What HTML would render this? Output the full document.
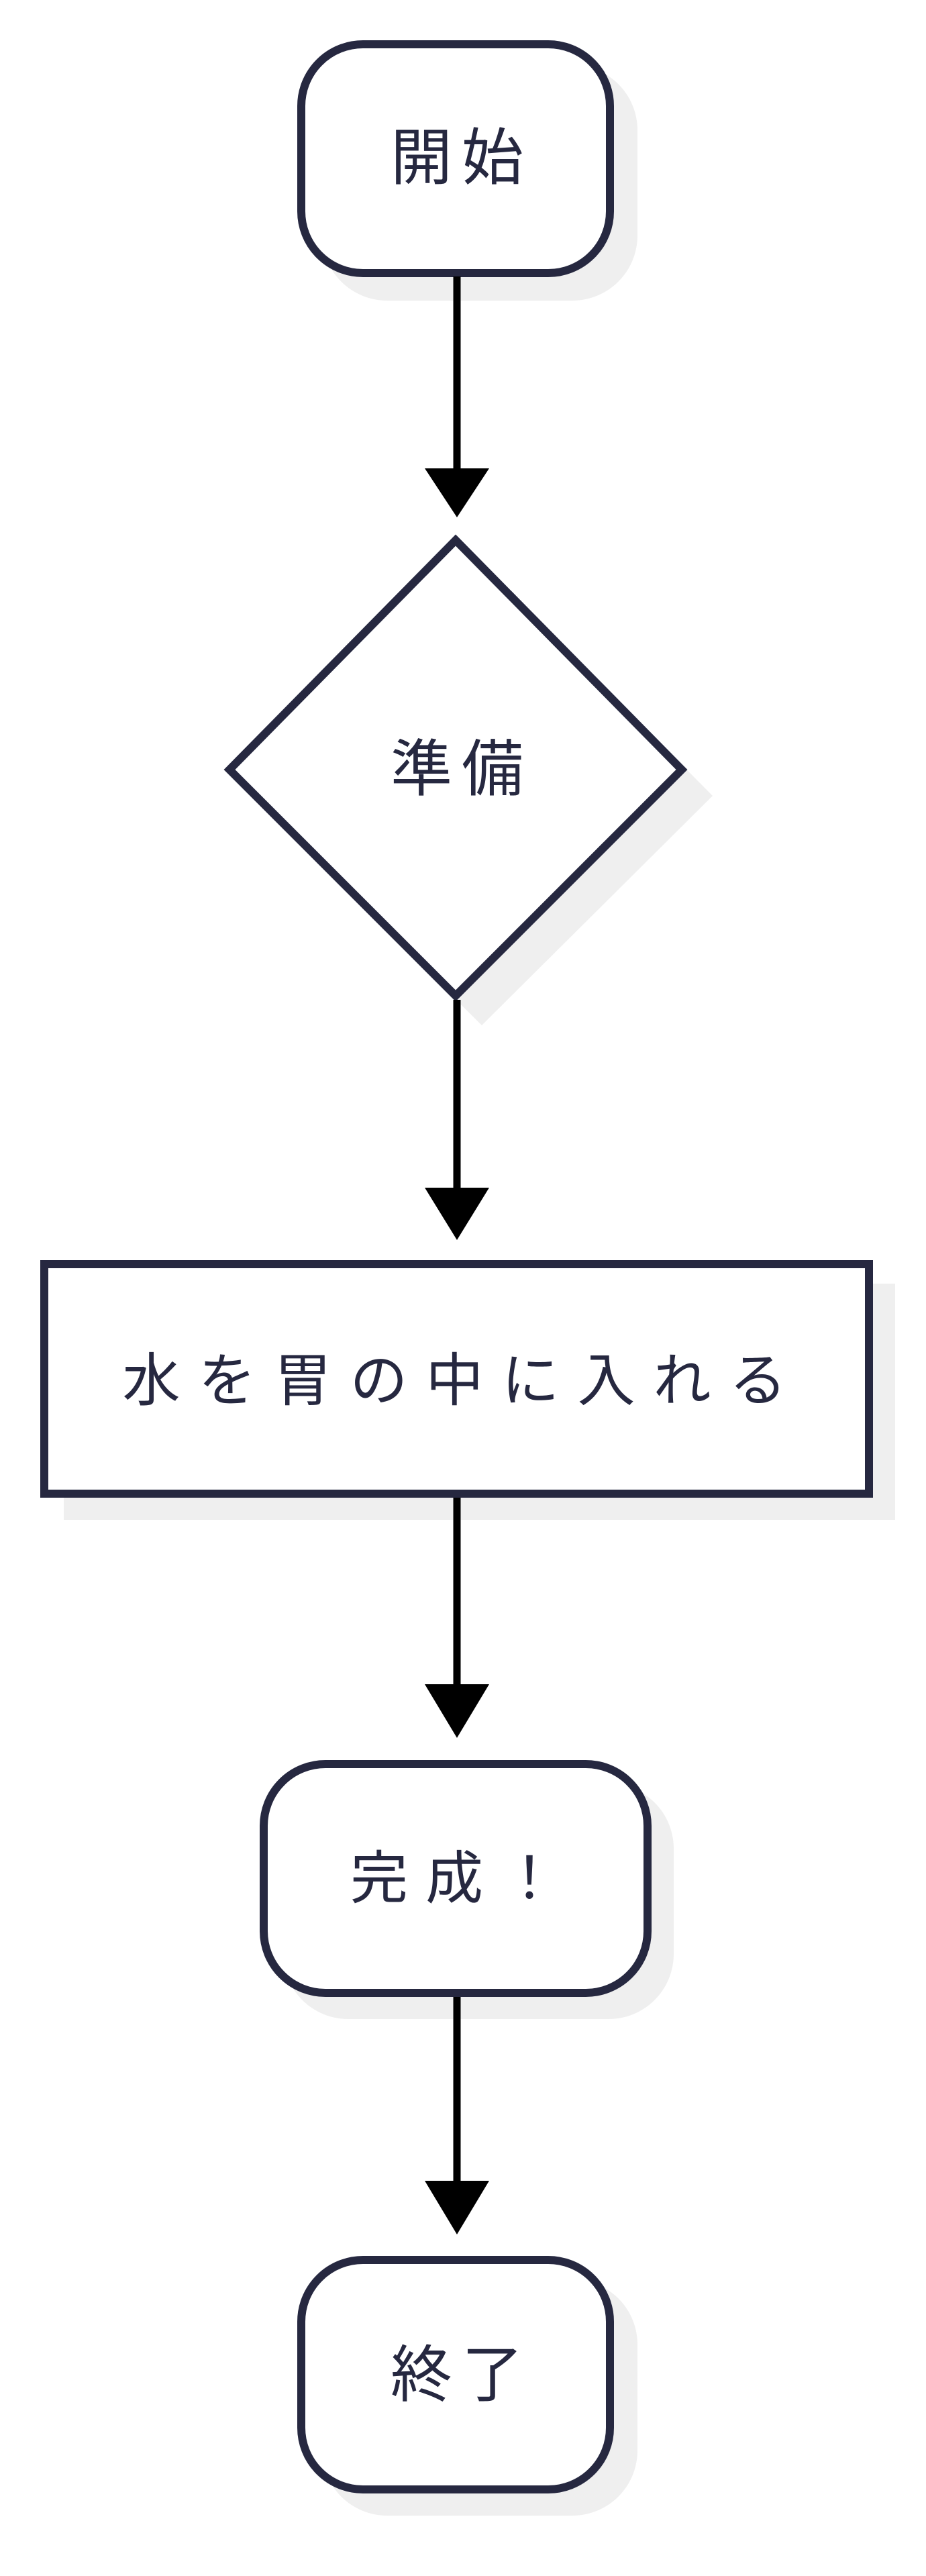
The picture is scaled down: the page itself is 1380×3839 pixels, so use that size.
<!DOCTYPE html>
<html><head><meta charset="utf-8"><style>
html,body{margin:0;padding:0;background:#fff;}
svg{display:block;}
text{font-family:"Liberation Sans","Noto Sans CJK JP",sans-serif;fill:#262840;text-anchor:middle;dominant-baseline:central;font-weight:normal;}
</style></head><body>
<svg width="1380" height="3839" viewBox="0 0 1380 3839" xmlns="http://www.w3.org/2000/svg">
<g fill="#efefef">
<rect x="480" y="97" width="470" height="351" rx="97"/>
<polygon points="718,839 1062,1186 718,1528 374,1186"/>
<rect x="95" y="1913" width="1239" height="352"/>
<rect x="422" y="2658" width="582" height="351" rx="97"/>
<rect x="480" y="3397" width="470" height="352" rx="97"/>
</g>
<g fill="#fff" stroke="#262840" stroke-width="12">
<rect x="449" y="66" width="460" height="341" rx="92"/>
<polygon points="679,805 1016,1147 679,1484 342,1147"/>
<rect x="66" y="1884" width="1229" height="342"/>
<rect x="393" y="2629" width="572" height="341" rx="92"/>
<rect x="449" y="3368" width="460" height="342" rx="92"/>
</g>
<g stroke="#000" stroke-width="11" fill="none">
<line x1="681" y1="412" x2="681" y2="705"/>
<line x1="681" y1="1490" x2="681" y2="1775"/>
<line x1="681" y1="2232" x2="681" y2="2515"/>
<line x1="681" y1="2976" x2="681" y2="3255"/>
</g>
<g fill="#000">
<polygon points="633,698 729,698 681,771"/>
<polygon points="633,1770 729,1770 681,1848"/>
<polygon points="633,2510 729,2510 681,2590"/>
<polygon points="633,3250 729,3250 681,3330"/>
</g>
<text x="688" y="236" font-size="92" letter-spacing="14">開始</text>
<text x="688" y="1147" font-size="92" letter-spacing="14">準備</text>
<text x="691" y="2058" font-size="86" letter-spacing="27">水を胃の中に入れる</text>
<text x="690" y="2800" font-size="86" letter-spacing="26">完成！</text>
<text x="688" y="3540" font-size="92" letter-spacing="14">終了</text>
</svg>
</body></html>
